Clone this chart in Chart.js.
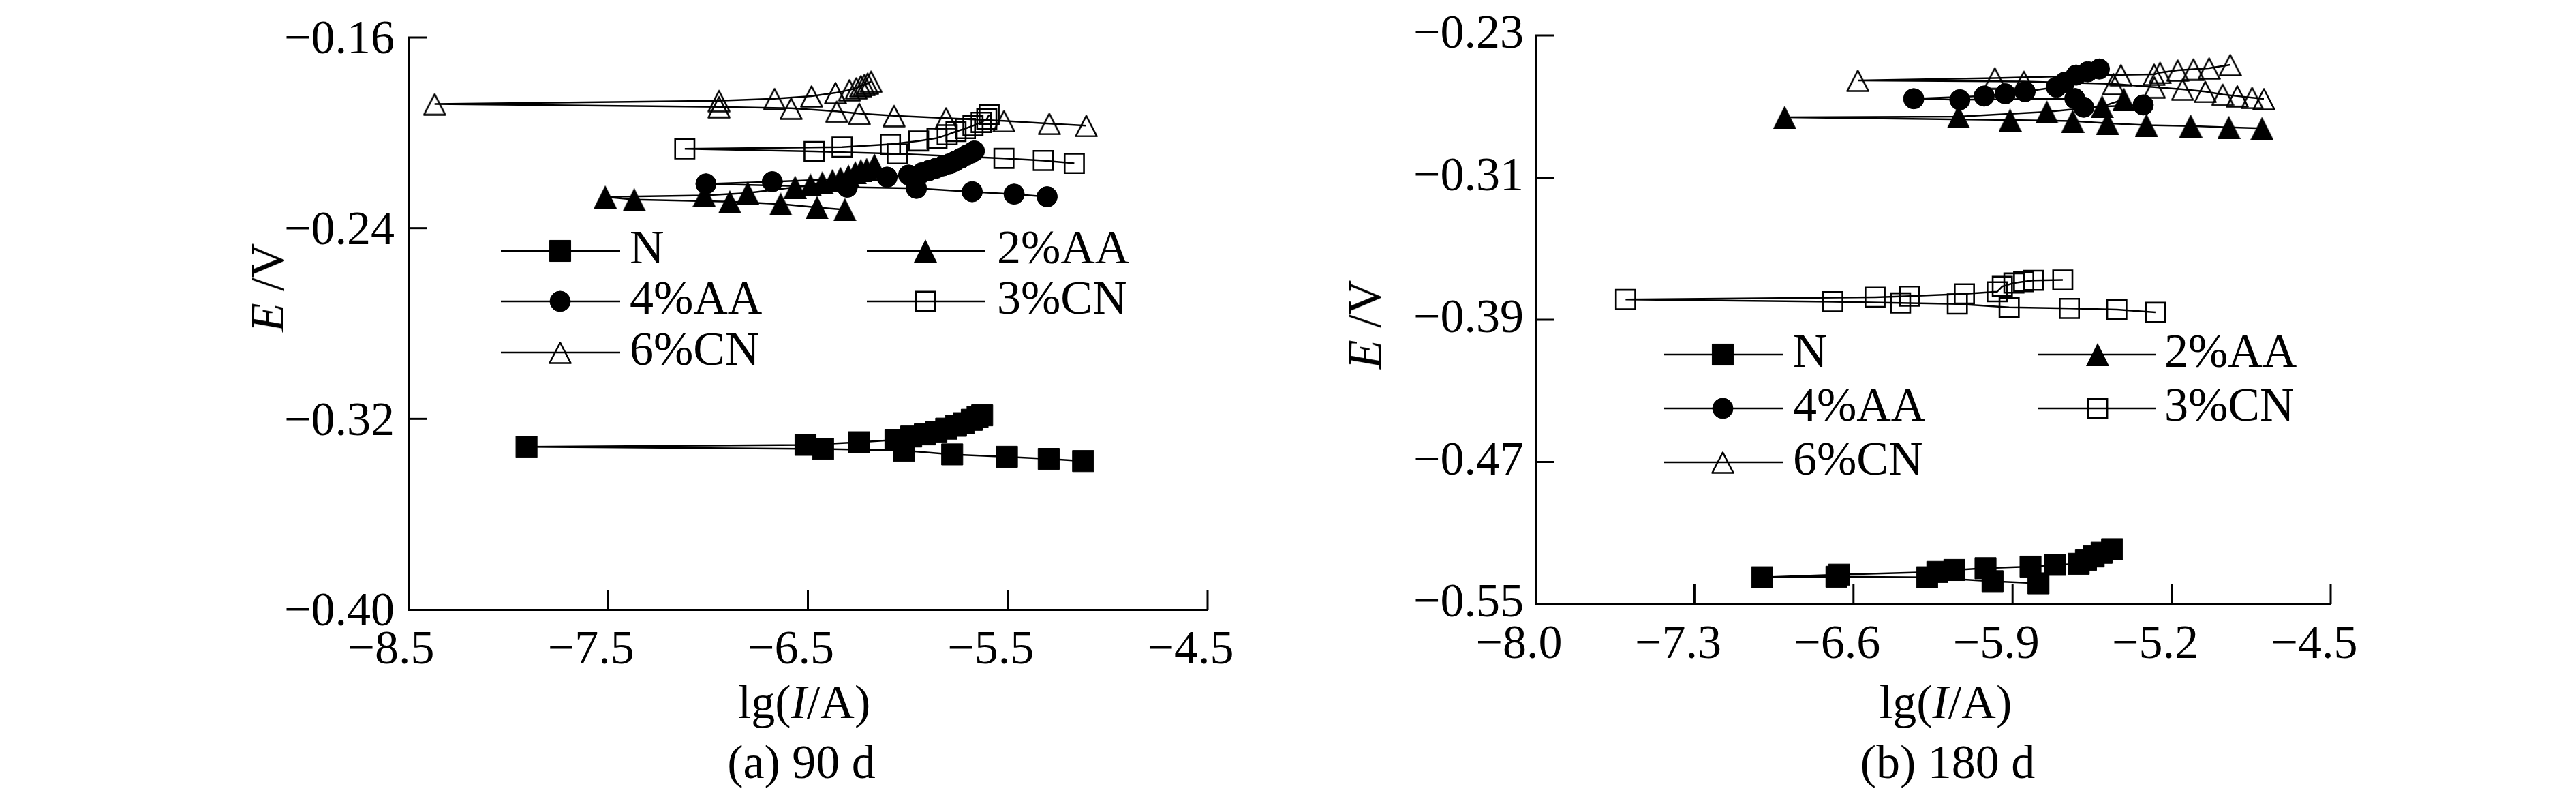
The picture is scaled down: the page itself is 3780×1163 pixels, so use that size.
<!DOCTYPE html>
<html><head><meta charset="utf-8">
<script src="https://cdn.jsdelivr.net/npm/chart.js@4.4.0/dist/chart.umd.min.js"></script>
<style>
html,body{margin:0;padding:0;background:#fff;}
body{width:3780px;height:1163px;position:relative;overflow:hidden;font-family:'Liberation Serif','Times New Roman',serif;}
canvas{position:absolute;top:0;}
#ca{left:0;} #cb{left:1890px;}
.t{position:absolute;font-size:70px;line-height:1;white-space:nowrap;color:#000;}
.rot{transform:translate(-50%,-50%) rotate(-90deg);}
.ctr{transform:translate(-50%,-50%);}
</style></head><body>
<canvas id="ca" width="1890" height="1163"></canvas>
<canvas id="cb" width="1890" height="1163"></canvas>
<div class="t rot" style="left:393px;top:422px"><i>E</i> /V</div>
<div class="t rot" style="left:2003px;top:476px"><i>E</i> /V</div>
<div class="t ctr" style="left:1180px;top:1030px">lg(<i>I</i>/A)</div>
<div class="t ctr" style="left:2855px;top:1030px">lg(<i>I</i>/A)</div>
<div class="t ctr" style="left:1176px;top:1118px">(a) 90 d</div>
<div class="t ctr" style="left:2858px;top:1118px">(b) 180 d</div>
<script>
// ---------- DATA ----------
const seriesNames = ['N', '2%AA', '4%AA', '3%CN', '6%CN'];

// (a) 90 d
const xTicksA = [-8.5, -7.5, -6.5, -5.5, -4.5];
const yTicksA = [-0.40, -0.32, -0.24, -0.16];
const a_N_x   = [-5.123,-5.295,-5.504,-5.778,-6.019,-6.424,-7.908,-6.512,-6.244,-6.062,-5.983,-5.915,-5.857,-5.808,-5.759,-5.720,-5.680,-5.651,-5.628];
const a_N_y   = [-0.3377,-0.3368,-0.3359,-0.3349,-0.3333,-0.3326,-0.3317,-0.3309,-0.3298,-0.3288,-0.3274,-0.3265,-0.3254,-0.3241,-0.3229,-0.3218,-0.3204,-0.3192,-0.3185];
const a_AA2_x = [-6.315,-6.454,-6.636,-6.891,-7.369,-7.514,-7.019,-6.801,-6.564,-6.487,-6.428,-6.377,-6.337,-6.297,-6.263,-6.235,-6.206,-6.167];
const a_AA2_y = [-0.2322,-0.2313,-0.2299,-0.2289,-0.2280,-0.2269,-0.2262,-0.2252,-0.2228,-0.2219,-0.2210,-0.2200,-0.2191,-0.2181,-0.2167,-0.2158,-0.2153,-0.2135];
const a_AA4_x = [-5.303,-5.468,-5.678,-5.957,-6.303,-7.010,-6.678,-6.104,-5.996,-5.928,-5.894,-5.860,-5.826,-5.792,-5.763,-5.735,-5.707,-5.684,-5.667];
const a_AA4_y = [-0.2268,-0.2257,-0.2247,-0.2233,-0.2228,-0.2214,-0.2205,-0.2186,-0.2177,-0.2167,-0.2158,-0.2149,-0.2139,-0.2130,-0.2119,-0.2107,-0.2094,-0.2085,-0.2076];
const a_CN3_x = [-5.167,-5.322,-5.519,-6.053,-6.469,-7.116,-6.329,-6.087,-5.946,-5.854,-5.803,-5.759,-5.712,-5.674,-5.633,-5.605,-5.593];
const a_CN3_y = [-0.2128,-0.2116,-0.2107,-0.2088,-0.2078,-0.2067,-0.2060,-0.2048,-0.2034,-0.2022,-0.2008,-0.1994,-0.1982,-0.1970,-0.1956,-0.1942,-0.1924];
const a_CN6_x = [-5.107,-5.292,-5.519,-5.809,-6.069,-6.243,-6.356,-6.584,-6.945,-8.368,-6.945,-6.667,-6.482,-6.362,-6.292,-6.258,-6.235,-6.218,-6.201,-6.184];
const a_CN6_y = [-0.1970,-0.1961,-0.1950,-0.1938,-0.1928,-0.1919,-0.1910,-0.1897,-0.1891,-0.1879,-0.1865,-0.1857,-0.1846,-0.1832,-0.1820,-0.1812,-0.1803,-0.1798,-0.1792,-0.1784];

// (b) 180 d
const xTicksB = [-8.0, -7.3, -6.6, -5.9, -5.2, -4.5];
const yTicksB = [-0.55, -0.47, -0.39, -0.31, -0.23];
const b_N_x   = [-5.786,-5.988,-6.276,-6.675,-7.002,-6.663,-6.231,-6.156,-6.019,-5.821,-5.713,-5.609,-5.577,-5.543,-5.508,-5.462];
const b_N_y   = [-0.5383,-0.5371,-0.5349,-0.5346,-0.5349,-0.5334,-0.5319,-0.5308,-0.5298,-0.5289,-0.5279,-0.5273,-0.5251,-0.5232,-0.5211,-0.5191];
const b_AA2_x = [-4.802,-4.948,-5.116,-5.311,-5.482,-5.635,-5.911,-6.903,-6.138,-5.749,-5.506,-5.410];
const b_AA2_y = [-0.2823,-0.2817,-0.2809,-0.2805,-0.2794,-0.2782,-0.2776,-0.2760,-0.2757,-0.2730,-0.2700,-0.2659];
const b_AA4_x = [-5.325,-5.587,-5.626,-6.132,-6.335,-6.025,-5.932,-5.845,-5.707,-5.671,-5.620,-5.569,-5.518];
const b_AA4_y = [-0.2691,-0.2704,-0.2655,-0.2662,-0.2656,-0.2641,-0.2628,-0.2616,-0.2591,-0.2564,-0.2523,-0.2504,-0.2489];
const b_CN3_x = [-5.271,-5.441,-5.650,-5.915,-6.143,-6.393,-6.691,-7.603,-6.505,-6.353,-6.112,-5.968,-5.945,-5.894,-5.851,-5.808,-5.679];
const b_CN3_y = [-0.3858,-0.3842,-0.3836,-0.3830,-0.3811,-0.3805,-0.3798,-0.3786,-0.3773,-0.3767,-0.3754,-0.3742,-0.3712,-0.3693,-0.3685,-0.3678,-0.3676];
const b_CN6_x = [-4.794,-4.846,-4.911,-4.975,-5.052,-5.152,-5.276,-5.456,-5.850,-6.581,-5.978,-5.423,-5.277,-5.251,-5.173,-5.104,-5.035,-4.942];
const b_CN6_y = [-0.2657,-0.2650,-0.2641,-0.2632,-0.2616,-0.2603,-0.2591,-0.2572,-0.2559,-0.2553,-0.2540,-0.2522,-0.2519,-0.2509,-0.2496,-0.2490,-0.2484,-0.2465];

// ---------- STYLE ----------
const FONT = "'Liberation Serif','Times New Roman',serif";
function triCanvas(filled){
  const w = 34, h = 34, c = document.createElement('canvas');
  c.width = w; c.height = h;
  const g = c.getContext('2d');
  g.beginPath();
  if (filled) {
    g.moveTo(w/2, 0); g.lineTo(w, h); g.lineTo(0, h); g.closePath();
    g.fillStyle = '#000'; g.fill();
  } else {
    const s = 1.5;
    g.moveTo(w/2, s+1); g.lineTo(w-s, h-s); g.lineTo(s, h-s); g.closePath();
    g.lineWidth = 2.6; g.lineJoin = 'round'; g.strokeStyle = '#000'; g.stroke();
  }
  return c;
}
const triFilled = triCanvas(true), triOpen = triCanvas(false);
const markerStyles = [
  {pointStyle:'rect', pointRadius:22, pointBackgroundColor:'#000', pointBorderWidth:1},
  {pointStyle:triFilled, pointRadius:17, pointBackgroundColor:'#000', pointBorderWidth:0},
  {pointStyle:'circle', pointRadius:15, pointBackgroundColor:'#000', pointBorderWidth:1},
  {pointStyle:'rect', pointRadius:20, pointBackgroundColor:'rgba(0,0,0,0)', pointBorderWidth:2.6},
  {pointStyle:triOpen, pointRadius:17, pointBackgroundColor:'rgba(0,0,0,0)', pointBorderWidth:0}
];
function zip(xs, ys){ return xs.map((x, i) => ({x: x, y: ys[i]})); }
function makeDatasets(list){
  return list.map((pair, i) => Object.assign({
    label: seriesNames[i], data: zip(pair[0], pair[1]), showLine: true,
    borderColor:'#000', borderWidth:2.5, pointBorderColor:'#000', tension:0, fill:false
  }, markerStyles[i]));
}
function fmt(v, d){ return (v < 0 ? '\u2212' : '') + Math.abs(v).toFixed(d); }

function drawMarker(ctx, ds, x, y){
  const st = ds.pointStyle;
  if (typeof st === 'object') { ctx.drawImage(st, x - st.width/2, y - st.height/2); return; }
  ctx.fillStyle = ds.pointBackgroundColor; ctx.strokeStyle = '#000'; ctx.lineWidth = ds.pointBorderWidth;
  ctx.beginPath();
  if (st === 'rect') { const s = Math.SQRT1_2 * ds.pointRadius; ctx.rect(x - s, y - s, 2*s, 2*s); }
  else { ctx.arc(x, y, ds.pointRadius, 0, Math.PI*2); }
  ctx.fill(); if (ds.pointBorderWidth > 0) ctx.stroke();
}

const innerTicks = {
  id:'innerTicks',
  afterDraw(chart, args, o){
    const ctx = chart.ctx, a = chart.chartArea, x = chart.scales.x, y = chart.scales.y;
    ctx.save(); ctx.strokeStyle = '#000'; ctx.lineWidth = o.width;
    x.ticks.forEach(t => { const px = x.getPixelForValue(t.value); if (Math.abs(px - a.left) < 2) return;
      ctx.beginPath(); ctx.moveTo(px, a.bottom); ctx.lineTo(px, a.bottom - o.xLen); ctx.stroke(); });
    y.ticks.forEach(t => { const py = y.getPixelForValue(t.value); if (Math.abs(py - a.bottom) < 2) return;
      ctx.beginPath(); ctx.moveTo(a.left, py); ctx.lineTo(a.left + o.yLen, py); ctx.stroke(); });
    ctx.restore();
  }
};
const gridLegend = {
  id:'gridLegend',
  afterDraw(chart, args, o){
    const ctx = chart.ctx;
    ctx.save();
    chart.data.datasets.forEach((ds, i) => {
      const c = o.cols[i % 2], r = o.rows[Math.floor(i / 2)];
      ctx.strokeStyle = '#000'; ctx.lineWidth = 2.5;
      ctx.beginPath(); ctx.moveTo(c[0], r); ctx.lineTo(c[2], r); ctx.stroke();
      drawMarker(ctx, ds, c[1], r);
      ctx.fillStyle = '#000'; ctx.font = '70px ' + FONT; ctx.textBaseline = 'middle'; ctx.textAlign = 'left';
      ctx.fillText(ds.label, c[3], r);
    });
    ctx.restore();
  }
};

function makeChart(id, sets, xt, yt, geo){
  return new Chart(document.getElementById(id), {
    type:'scatter',
    data:{ datasets: makeDatasets(sets) },
    plugins:[innerTicks, gridLegend],
    options:{
      responsive:false, animation:false, devicePixelRatio:1,
      layout:{ padding:{ left:0, right:geo.right, top:geo.top, bottom:0 } },
      plugins:{ legend:{display:false}, tooltip:{enabled:false},
        innerTicks:{ width:3, xLen:29, yLen:28 },
        gridLegend:{ cols:geo.cols, rows:geo.rows } },
      scales:{
        x:{ type:'linear', min:xt[0], max:xt[xt.length-1],
          afterBuildTicks: s => { s.ticks = xt.map(v => ({value:v})); },
          afterFit: s => { s.height = geo.xh; },
          grid:{ display:false, drawTicks:false },
          border:{ display:true, color:'#000', width:3 },
          ticks:{ autoSkip:false, maxRotation:0, minRotation:0, padding:geo.xpad, labelOffset:geo.xoff, color:'#000',
            font:{ family:FONT, size:70, lineHeight:1 }, callback: v => fmt(v, 1) } },
        y:{ type:'linear', min:yt[0], max:yt[yt.length-1],
          afterBuildTicks: s => { s.ticks = yt.map(v => ({value:v})); },
          afterFit: s => { s.width = geo.yw; },
          grid:{ display:false, drawTicks:false },
          border:{ display:true, color:'#000', width:3 },
          ticks:{ autoSkip:false, padding:geo.ypad, labelOffset:geo.yoff, color:'#000',
            font:{ family:FONT, size:70, lineHeight:1 }, callback: v => fmt(v, 2) } }
      }
    }
  });
}

makeChart('ca',
  [[a_N_x,a_N_y],[a_AA2_x,a_AA2_y],[a_AA4_x,a_AA4_y],[a_CN3_x,a_CN3_y],[a_CN6_x,a_CN6_y]],
  xTicksA, yTicksA,
  { right:118, top:42, xh:269, yw:599, xpad:26, xoff:-25, ypad:20, yoff:5,
    cols:[[735,822,910,924],[1272,1358,1446,1463]], rows:[368,442,517] });
makeChart('cb',
  [[b_N_x,b_N_y],[b_AA2_x,b_AA2_y],[b_AA4_x,b_AA4_y],[b_CN3_x,b_CN3_y],[b_CN6_x,b_CN6_y]],
  xTicksB, yTicksB,
  { right:360, top:38, xh:277, yw:363, xpad:26, xoff:-24, ypad:17, yoff:0,
    cols:[[552,638,726,741],[1101,1188,1274,1286]], rows:[520,599,678] });
</script>
</body></html>
